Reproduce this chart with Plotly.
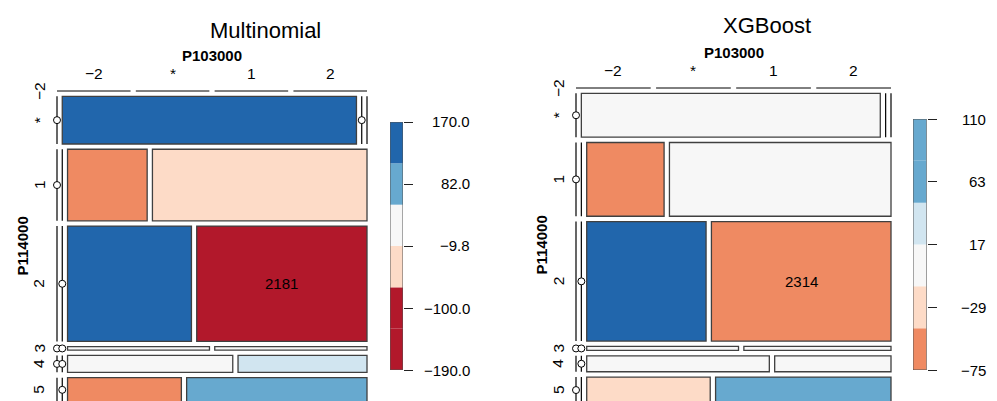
import plotly.graph_objects as go

W, H = 997, 401
FONT = "Liberation Sans, Arial, Helvetica, sans-serif"

# Factor levels
row_levels = ["−2", "*", "1", "2", "3", "4", "5"]   # P114000
col_levels = ["−2", "*", "1", "2"]                  # P103000

# Cell counts (rows = P114000, columns = P103000)
multinomial_counts = [
    [0, 0, 0, 0],
    [0, 1559, 0, 0],
    [0, 0, 633, 1706],
    [0, 0, 1587, 2181],
    [0, 0, 55, 59],
    [0, 0, 310, 242],
    [0, 0, 308, 488],
]
xgboost_counts = [
    [0, 0, 0, 0],
    [0, 1412, 0, 0],
    [0, 0, 615, 1761],
    [0, 0, 1538, 2314],
    [0, 0, 65, 63],
    [0, 0, 314, 200],
    [0, 0, 345, 490],
]

# Residual shading level of each cell (-3 .. 3)
multinomial_shade = [
    [0, 0, 0, 0],
    [0, 3, 0, 0],
    [0, 0, -2, -1],
    [0, 0, 3, -3],
    [0, 0, 0, 0],
    [0, 0, 0, 1],
    [0, 0, -2, 2],
]
xgboost_shade = [
    [0, 0, 0, 0],
    [0, 0, 0, 0],
    [0, 0, -2, 0],
    [0, 0, 3, -2],
    [0, 0, 0, 0],
    [0, 0, 0, 0],
    [0, 0, -1, 2],
]

# Empty cells that carry a zero marker
multinomial_zero_marks = [("*", "−2"), ("*", "1"), ("1", "−2"), ("2", "*"),
                          ("3", "−2"), ("3", "*"), ("4", "−2"), ("4", "*"), ("5", "*")]
xgboost_zero_marks = [("*", "−2"), ("1", "−2"), ("2", "*"), ("3", "−2"),
                      ("3", "*"), ("4", "*"), ("5", "−2")]

# Shading legends: tick labels (bottom to top) and band shades (bottom to top)
multinomial_legend_labels = ["−190.0", "−100.0", "−9.8", "82.0", "170.0"]
multinomial_legend_shades = [-3, -3, -1, 0, 2, 3]
xgboost_legend_labels = ["−75", "−29", "17", "63", "110"]
xgboost_legend_shades = [-2, -1, 0, 1, 2, 2]

palette = {-3: "#B2182B", -2: "#EF8A62", -1: "#FDDBC7", 0: "#F7F7F7",
           1: "#D1E5F0", 2: "#67A9CF", 3: "#2166AC"}

GAP = 0.017


def mosaic_layout(counts):
    nr, nc = len(counts), len(counts[0])
    row_tot = [sum(r) for r in counts]
    total = sum(row_tot)
    avail_h = 1 - (nr - 1) * GAP
    avail_w = 1 - (nc - 1) * GAP
    cells = []
    y = 0.0
    for i, row in enumerate(counts):
        h = row_tot[i] / total * avail_h
        x = 0.0
        for j, c in enumerate(row):
            w = avail_w / nc if row_tot[i] == 0 else c / row_tot[i] * avail_w
            cells.append(dict(i=i, j=j, x0=x, x1=x + w, y0=y, y1=y + h, n=c))
            x += w + GAP
        y += h + GAP
    return cells


def axis_setup(box, dom):
    bx0, bx1, by0, by1 = box
    dx0, dx1, dy0, dy1 = dom
    xr = [(dx0 - bx0) / (bx1 - bx0), (dx1 - bx0) / (bx1 - bx0)]
    yr = [(dy1 - by0) / (by1 - by0), (dy0 - by0) / (by1 - by0)]
    return ([dx0 / W, dx1 / W], xr), ([1 - dy1 / H, 1 - dy0 / H], yr)


fig = go.Figure()
shapes, annotations = [], []

panels = [
    dict(name="Multinomial", counts=multinomial_counts, shade=multinomial_shade,
         marks=multinomial_zero_marks, xa="x", ya="y",
         box=(57, 367, 91, 402), dom=(40, 385, 78, 401), title_xy=(265, 30),
         leg_labels=multinomial_legend_labels, leg_shades=multinomial_legend_shades,
         leg_box=(390, 403, 122, 370), leg_x="x3", leg_y="y3", leg_off=69),
    dict(name="XGBoost", counts=xgboost_counts, shade=xgboost_shade,
         marks=xgboost_zero_marks, xa="x2", ya="y2",
         box=(576, 891, 88, 403), dom=(560, 906, 75, 401), title_xy=(767, 26),
         leg_labels=xgboost_legend_labels, leg_shades=xgboost_legend_shades,
         leg_box=(913, 926.7, 119, 370), leg_x="x4", leg_y="y4", leg_off=61),
]

layout_axes = {}
for k, p in enumerate(panels):
    xa, ya = p["xa"], p["ya"]
    (xd, xr), (yd, yr) = axis_setup(p["box"], p["dom"])
    xkey = "xaxis" if xa == "x" else "xaxis" + xa[1:]
    ykey = "yaxis" if ya == "y" else "yaxis" + ya[1:]
    layout_axes[xkey] = dict(domain=xd, range=xr, visible=False, anchor=ya)
    layout_axes[ykey] = dict(domain=yd, range=yr, visible=False, anchor=xa)

    cells = mosaic_layout(p["counts"])
    big = max(cells, key=lambda c: c["n"])
    mx, my = [], []
    for c in cells:
        rl, cl = row_levels[c["i"]], col_levels[c["j"]]
        if c["y1"] - c["y0"] <= 0:
            shapes.append(dict(type="line", xref=xa, yref=ya, x0=c["x0"], x1=c["x1"],
                               y0=c["y0"], y1=c["y0"], layer="below",
                               line=dict(color="black", width=1)))
        elif c["n"] == 0:
            shapes.append(dict(type="line", xref=xa, yref=ya, x0=c["x0"], x1=c["x0"],
                               y0=c["y0"], y1=c["y1"], layer="below",
                               line=dict(color="black", width=1.2)))
            if (rl, cl) in p["marks"]:
                mx.append(c["x0"])
                my.append((c["y0"] + c["y1"]) / 2)
        else:
            shapes.append(dict(type="rect", xref=xa, yref=ya, x0=c["x0"], x1=c["x1"],
                               y0=c["y0"], y1=c["y1"], layer="below",
                               fillcolor=palette[p["shade"][c["i"]][c["j"]]],
                               line=dict(color="#404040", width=1.3)))
    fig.add_trace(go.Scatter(x=mx, y=my, xaxis=xa, yaxis=ya, mode="markers",
                             marker=dict(symbol="circle", size=7, color="white",
                                         line=dict(color="black", width=1)),
                             hoverinfo="skip", showlegend=False))

    # count label on the largest cell
    annotations.append(dict(xref=xa, yref=ya, x=(big["x0"] + big["x1"]) / 2,
                            y=(big["y0"] + big["y1"]) / 2, text=str(big["n"]),
                            showarrow=False, font=dict(size=15, color="black", family=FONT)))

    # row labels (P114000)
    row_cells = [c for c in cells if c["j"] == 0]
    for c in row_cells:
        annotations.append(dict(xref=xa, yref=ya, x=0, y=(c["y0"] + c["y1"]) / 2,
                                xshift=-18, text=row_levels[c["i"]], textangle=-90,
                                showarrow=False, font=dict(size=15.5, color="black", family=FONT)))
    # column labels (P103000) over the top row split
    for c in [c for c in cells if c["i"] == 0]:
        annotations.append(dict(xref=xa, yref=ya, x=(c["x0"] + c["x1"]) / 2, y=0,
                                yshift=18, text=col_levels[c["j"]], showarrow=False,
                                font=dict(size=15.5, color="black", family=FONT)))
    annotations.append(dict(xref=xa, yref=ya, x=0.5, y=0, yshift=36,
                            text="<b>P103000</b>", showarrow=False,
                            font=dict(size=15, color="black", family=FONT)))
    annotations.append(dict(xref=xa, yref=ya, x=0, y=0.5, xshift=-35, textangle=-90,
                            text="<b>P114000</b>", showarrow=False,
                            font=dict(size=15, color="black", family=FONT)))
    # panel title
    tx, ty = p["title_xy"]
    annotations.append(dict(xref="paper", yref="paper", x=tx / W, y=1 - ty / H,
                            xanchor="center", yanchor="middle", text=p["name"],
                            showarrow=False, font=dict(size=22, color="black", family=FONT)))

    # shading legend
    lx, ly = p["leg_x"], p["leg_y"]
    bx0, bx1, by0, by1 = p["leg_box"]
    lxkey, lykey = "xaxis" + lx[1:], "yaxis" + ly[1:]
    nt = len(p["leg_labels"]) - 1
    layout_axes[lxkey] = dict(domain=[bx0 / W, bx1 / W], range=[0, 1], visible=False, anchor=ly)
    layout_axes[lykey] = dict(domain=[1 - by1 / H, 1 - by0 / H], range=[0, nt], anchor=lx,
                              side="right", showgrid=False, zeroline=False, showline=False,
                              ticks="outside", ticklen=9, tickwidth=1, tickcolor="#222",
                              tickvals=list(range(nt + 1)), showticklabels=False)
    nb = len(p["leg_shades"])
    step = nt / nb
    for b, s in enumerate(p["leg_shades"]):
        shapes.append(dict(type="rect", xref=lx, yref=ly, x0=0, x1=1, y0=b * step,
                           y1=(b + 1) * step, fillcolor=palette[s], layer="below",
                           line=dict(width=0)))
    shapes.append(dict(type="rect", xref=lx, yref=ly, x0=0, x1=1, y0=0, y1=nt,
                       layer="above", line=dict(color="#555", width=1)))
    for t, lab in enumerate(p["leg_labels"]):
        annotations.append(dict(xref=lx, yref=ly, x=1, y=t, xanchor="right",
                                xshift=p["leg_off"], text=lab, showarrow=False,
                                font=dict(size=15, color="black", family=FONT)))

fig.update_layout(width=W, height=H, margin=dict(l=0, r=0, t=0, b=0),
                  paper_bgcolor="white", plot_bgcolor="rgba(0,0,0,0)",
                  shapes=shapes, annotations=annotations, showlegend=False,
                  **layout_axes)

fig.write_html("out.html")
